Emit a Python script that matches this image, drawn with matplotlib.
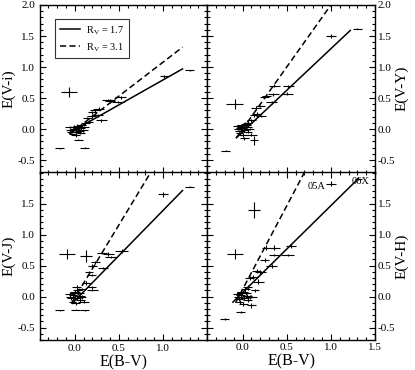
import numpy as np
import matplotlib
matplotlib.use("Agg")
import matplotlib.pyplot as plt
from matplotlib.ticker import MultipleLocator, FixedLocator, FixedFormatter

plt.rcParams['font.family'] = ['Liberation Serif', 'DejaVu Serif']
plt.rcParams['axes.unicode_minus'] = False

# ---- data: (E(B-V), err, E(V-X), err) per panel ----
# top left: E(V-i)
vi_x  = [-0.07, -0.17, 0.11, 0.04, 1.01, 1.30, 0.40, 0.52, 0.49, 0.38, 0.27, 0.23, 0.20, 0.26,
         0.19, 0.14, 0.30, 0.12, 0.16, 0.08, 0.10, -0.02, 0.00, 0.02, -0.05, 0.04, 0.06, -0.03,
         0.01, 0.05, -0.06, 0.03, 0.07, -0.01, 0.09, -0.04]
vi_xe = [0.09, 0.05, 0.05, 0.05, 0.05, 0.05, 0.06, 0.06, 0.07, 0.07, 0.06, 0.06, 0.05, 0.06,
         0.05, 0.05, 0.06, 0.05, 0.05, 0.05, 0.06, 0.05, 0.06, 0.05, 0.05, 0.06, 0.05, 0.04,
         0.05, 0.05, 0.05, 0.05, 0.05, 0.05, 0.06, 0.05]
vi_y  = [0.60, -0.31, -0.30, -0.17, 0.85, 0.95, 0.45, 0.51, 0.44, 0.47, 0.33, 0.30, 0.27, 0.22,
         0.21, 0.18, 0.14, 0.09, 0.12, 0.06, 0.03, -0.02, 0.00, -0.04, -0.01, 0.02, -0.06, -0.08,
         -0.10, -0.03, 0.03, 0.05, 0.01, 0.04, -0.02, -0.05]
vi_ye = [0.08, 0.01, 0.01, 0.01, 0.02, 0.01, 0.03, 0.02, 0.02, 0.02, 0.03, 0.02, 0.02, 0.02,
         0.03, 0.02, 0.02, 0.02, 0.02, 0.02, 0.02, 0.03, 0.02, 0.03, 0.02, 0.02, 0.02, 0.02,
         0.03, 0.02, 0.02, 0.03, 0.02, 0.02, 0.02, 0.02]

# top right: E(V-Y)
vy_x  = [-0.09, -0.19, 0.13, 0.02, 1.00, 1.30, 0.36, 0.52, 0.27, 0.25, 0.50, 0.35, 0.33, 0.20,
         0.15, 0.16, 0.13, 0.21, 0.10, 0.06, -0.02, 0.00, 0.02, -0.05, 0.04, 0.06, -0.03, 0.01,
         0.05, -0.06, 0.03, 0.08, -0.01, 0.10, -0.04]
vy_xe = [0.10, 0.05, 0.05, 0.05, 0.06, 0.05, 0.06, 0.06, 0.05, 0.05, 0.07, 0.06, 0.06, 0.05,
         0.06, 0.05, 0.05, 0.06, 0.05, 0.05, 0.05, 0.06, 0.05, 0.05, 0.06, 0.05, 0.04, 0.05,
         0.06, 0.05, 0.05, 0.05, 0.05, 0.06, 0.05]
vy_y  = [0.41, -0.35, -0.18, -0.15, 1.50, 1.62, 0.70, 0.69, 0.53, 0.52, 0.57, 0.56, 0.43, 0.37,
         0.34, 0.25, 0.22, 0.21, 0.14, 0.10, 0.02, 0.04, -0.01, 0.00, 0.06, -0.04, -0.07, -0.09,
         0.03, 0.05, 0.08, 0.00, 0.06, -0.09, -0.03]
vy_ye = [0.08, 0.01, 0.07, 0.03, 0.03, 0.01, 0.02, 0.02, 0.02, 0.02, 0.02, 0.02, 0.02, 0.02,
         0.03, 0.02, 0.02, 0.02, 0.02, 0.03, 0.03, 0.02, 0.03, 0.02, 0.02, 0.02, 0.02, 0.03,
         0.02, 0.02, 0.03, 0.02, 0.02, 0.02, 0.02]

# bottom left: E(V-J)
vj_x  = [-0.09, 0.13, -0.17, 0.01, 0.11, 1.00, 1.30, 0.38, 0.31, 0.53, 0.41, 0.23, 0.20, 0.32,
         0.16, 0.19, 0.13, 0.20, 0.19, 0.08, 0.02, -0.02, 0.00, 0.02, -0.05, 0.04, 0.06, -0.03,
         0.01, 0.05, -0.06, 0.03, 0.08, -0.01, 0.10, -0.04]
vj_xe = [0.09, 0.07, 0.05, 0.05, 0.05, 0.06, 0.05, 0.06, 0.06, 0.07, 0.07, 0.05, 0.05, 0.06,
         0.05, 0.05, 0.05, 0.06, 0.05, 0.05, 0.05, 0.05, 0.06, 0.05, 0.05, 0.06, 0.05, 0.04,
         0.05, 0.06, 0.05, 0.05, 0.05, 0.05, 0.06, 0.05]
vj_y  = [0.68, 0.65, -0.22, -0.21, -0.22, 1.65, 1.77, 0.69, 0.70, 0.74, 0.64, 0.55, 0.50, 0.46,
         0.40, 0.35, 0.22, 0.11, 0.15, 0.12, 0.16, 0.02, 0.07, -0.02, 0.00, 0.05, -0.05, -0.08,
         -0.11, 0.01, 0.04, 0.10, -0.01, 0.05, -0.08, -0.03]
vj_ye = [0.08, 0.10, 0.01, 0.01, 0.01, 0.04, 0.01, 0.03, 0.02, 0.03, 0.02, 0.03, 0.02, 0.02,
         0.02, 0.02, 0.03, 0.02, 0.02, 0.02, 0.03, 0.04, 0.03, 0.04, 0.03, 0.03, 0.03, 0.03,
         0.03, 0.03, 0.03, 0.04, 0.03, 0.03, 0.03, 0.03]

# bottom right: E(V-H)
vh_x  = [-0.09, 0.13, -0.20, -0.02, 0.10, 1.00, 1.31, 0.27, 0.36, 0.36, 0.51, 0.55, 0.25, 0.33,
         0.16, 0.20, 0.12, 0.18, 0.08, 0.06, 0.14, -0.02, 0.00, 0.02, -0.05, 0.04, 0.06, -0.03,
         0.01, 0.05, -0.06, 0.03, 0.08, -0.01, 0.10, -0.04]
vh_xe = [0.09, 0.07, 0.05, 0.05, 0.05, 0.06, 0.04, 0.05, 0.06, 0.06, 0.07, 0.06, 0.05, 0.06,
         0.05, 0.06, 0.05, 0.06, 0.05, 0.05, 0.05, 0.05, 0.06, 0.05, 0.05, 0.06, 0.05, 0.04,
         0.05, 0.06, 0.05, 0.05, 0.05, 0.05, 0.06, 0.05]
vh_y  = [0.68, 1.40, -0.36, -0.25, -0.14, 1.82, 1.90, 0.79, 0.79, 0.67, 0.67, 0.82, 0.59, 0.49,
         0.41, 0.40, 0.32, 0.24, 0.30, 0.15, 0.10, 0.02, 0.08, -0.02, 0.00, 0.05, -0.06, -0.09,
         -0.12, 0.01, 0.04, 0.12, -0.01, 0.05, 0.00, -0.04]
vh_ye = [0.08, 0.13, 0.02, 0.02, 0.04, 0.04, 0.02, 0.04, 0.04, 0.02, 0.02, 0.03, 0.03, 0.03,
         0.03, 0.03, 0.03, 0.04, 0.03, 0.04, 0.03, 0.04, 0.03, 0.04, 0.03, 0.03, 0.03, 0.03,
         0.03, 0.03, 0.03, 0.04, 0.03, 0.03, 0.03, 0.03]

# model lines, end points (E(B-V), E(V-X))
rv17_x = [[-0.06, 1.22], [-0.07, 1.22], [-0.03, 1.22], [-0.11, 1.31]]
rv17_y = [[-0.06, 0.97], [-0.14, 1.59], [-0.11, 1.71], [-0.09, 1.90]]
rv31_x = [[-0.06, 1.22], [-0.07, 1.22], [-0.03, 1.22], [-0.08, 1.22]]
rv31_y = [[-0.08, 1.32], [-0.14, 2.44], [-0.09, 2.85], [-0.10, 3.40]]

ylabels = ["E(V-i)", "E(V-Y)", "E(V-J)", "E(V-H)"]
panels = [(vi_x, vi_xe, vi_y, vi_ye), (vy_x, vy_xe, vy_y, vy_ye),
          (vj_x, vj_xe, vj_y, vj_ye), (vh_x, vh_xe, vh_y, vh_ye)]

fig = plt.figure(figsize=(4.15, 3.7), dpi=100)
L, R, B, T = 39.5/415, 375/415, 1 - 340/370, 1 - 5/370
w = (R - L) / 2
h = (T - B) / 2
pos = [(L, B + h), (L + w, B + h), (L, B), (L + w, B)]

dash = (0, (4, 2.2))
for i, (px, pxe, py, pye) in enumerate(panels):
    ax = fig.add_axes([pos[i][0], pos[i][1], w, h])
    ax.errorbar(px, py, xerr=pxe, yerr=pye, fmt='none', ecolor='black', elinewidth=0.8, capsize=0)
    l1, = ax.plot(rv17_x[i], rv17_y[i], color='black', lw=1.1)
    l2, = ax.plot(rv31_x[i], rv31_y[i], color='black', lw=1.1, linestyle=dash)
    ax.set_xlim(-0.4, 1.5)
    ax.set_ylim(-0.7, 2.0)
    for s in ax.spines.values():
        s.set_linewidth(1.0)
    ax.xaxis.set_minor_locator(MultipleLocator(0.1))
    ax.yaxis.set_minor_locator(MultipleLocator(0.1))
    ax.tick_params(which='both', direction='in', top=True, bottom=True, left=True, right=True,
                   labelsize=8, pad=3)
    ax.tick_params(which='major', length=4.5, width=0.8)
    ax.tick_params(which='minor', length=2.5, width=0.8)

    yt = [-0.5, 0.0, 0.5, 1.0, 1.5, 2.0] if i < 2 else [-0.5, 0.0, 0.5, 1.0, 1.5]
    ax.yaxis.set_major_locator(FixedLocator(yt))
    ax.yaxis.set_major_formatter(FixedFormatter(["%.1f" % v for v in yt]))
    xt = [0.0, 0.5, 1.0] if i == 2 else [0.0, 0.5, 1.0, 1.5]
    ax.xaxis.set_major_locator(FixedLocator(xt))
    ax.xaxis.set_major_formatter(FixedFormatter(["%.1f" % v for v in xt]))

    if i % 2 == 0:
        ax.tick_params(labelleft=True, labelright=False)
        ax.set_ylabel(ylabels[i], fontsize=11, labelpad=1.5)
    else:
        ax.tick_params(labelleft=False, labelright=True, pad=2)
        ax.yaxis.set_label_position('right')
        ax.set_ylabel(ylabels[i], fontsize=11, labelpad=0)
    if i < 2:
        ax.tick_params(labelbottom=False)
    else:
        ax.set_xlabel("E(B-V)", fontsize=11.5, labelpad=1)

    if i == 0:
        leg = ax.legend([l1, l2], ["R$_\\mathregular{V}$ = 1.7", "R$_\\mathregular{V}$ = 3.1"],
                        loc='upper left', bbox_to_anchor=(0.092, 0.916), borderaxespad=0,
                        fontsize=7.5, frameon=True, fancybox=False, edgecolor='black',
                        handlelength=2.0, borderpad=0.45, labelspacing=0.4, handletextpad=0.5)
        leg.get_frame().set_linewidth(0.8)
    if i == 3:
        ax.text(0.84, 1.77, "05A", fontsize=7.5, ha='center', va='center')
        ax.text(1.34, 1.85, "06X", fontsize=7.5, ha='center', va='center')

fig.savefig("out.png", dpi=100)
